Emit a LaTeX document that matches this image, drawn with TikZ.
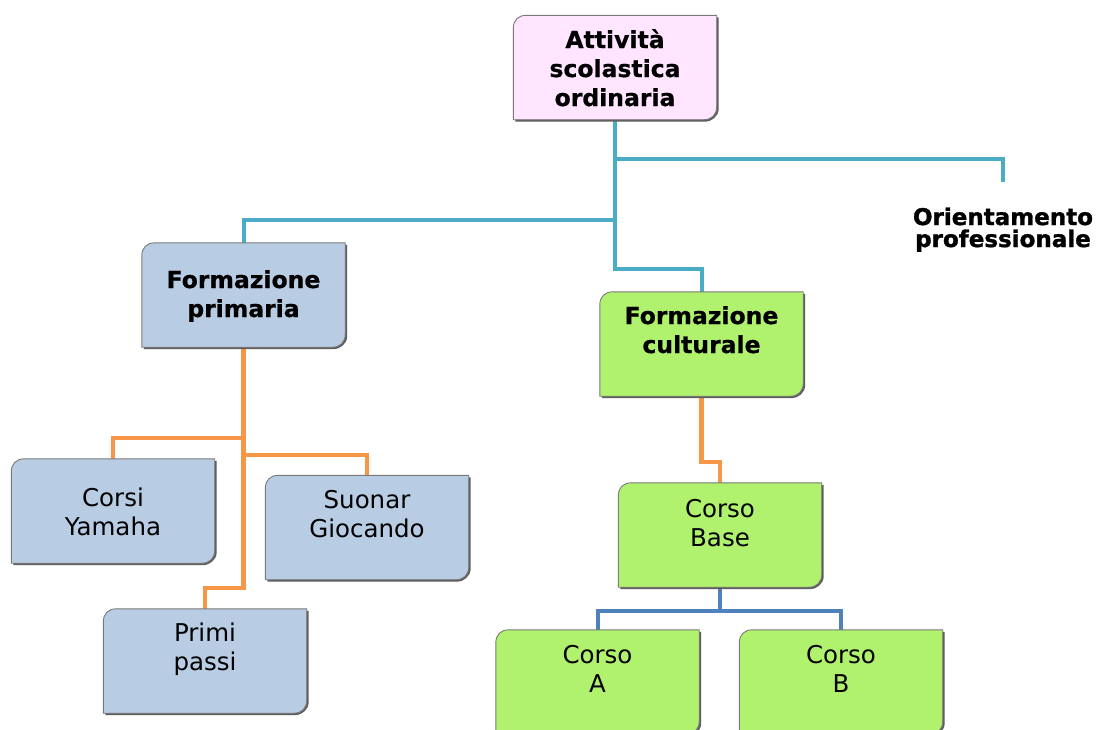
\documentclass[tikz,border=0pt]{standalone}
\usepackage{fontspec}
\setmainfont{DejaVu Sans}[BoldFeatures={FakeBold=0.6}]
\newfontfamily\heavyfont{DejaVu Sans Bold}[FakeBold=1.4]
\definecolor{pinkf}{HTML}{FFE5FF}
\definecolor{bluef}{HTML}{B8CCE4}
\definecolor{greenf}{HTML}{B0F26E}
\definecolor{tealc}{HTML}{4BACC6}
\definecolor{orangec}{HTML}{F79646}
\definecolor{bluec}{HTML}{4F81BD}
\definecolor{bordc}{HTML}{7A7A7A}
\definecolor{shadowc}{HTML}{5E5E5E}
\newcommand\ml[1]{\begin{tabular}[t]{@{}c@{}}#1\end{tabular}}
\newcommand\boxshape[2]{%
 \fill[shadowc] ([xshift=2pt,yshift=-2pt]#1.south west) -- ([xshift=2pt,yshift=-15pt]#1.north west) .. controls ([xshift=2pt,yshift=-7pt]#1.north west) and ([xshift=7pt,yshift=-2pt]#1.north west) .. ([xshift=15pt,yshift=-2pt]#1.north west) -- ([xshift=2pt,yshift=-2pt]#1.north east) -- ([xshift=2pt,yshift=11pt]#1.south east) .. controls ([xshift=2pt,yshift=3pt]#1.south east) and ([xshift=-6pt,yshift=-2pt]#1.south east) .. ([xshift=-11pt,yshift=-2pt]#1.south east) -- cycle;
 \filldraw[fill=#2, draw=bordc, line width=0.9pt] (#1.south west) -- ([yshift=-13pt]#1.north west) .. controls ([yshift=-5pt]#1.north west) and ([xshift=5pt]#1.north west) .. ([xshift=13pt]#1.north west) -- (#1.north east) -- ([yshift=13pt]#1.south east) .. controls ([yshift=5pt]#1.south east) and ([xshift=-5pt]#1.south east) .. ([xshift=-13pt]#1.south east) -- cycle;
}
\tikzset{
 boxn/.style={minimum width=203pt, minimum height=104pt, inner sep=0pt, draw=none},
 txt/.style={font=\fontsize{24.5}{29}\selectfont, inner sep=0pt, anchor=base, text=black},
 btxt/.style={font=\fontsize{23.5}{29}\selectfont\bfseries, inner sep=0pt, anchor=base, text=black},
 htxt/.style={font=\fontsize{23}{29}\selectfont\heavyfont, inner sep=0pt, anchor=base, text=black},
 conn/.style={line width=4pt, line join=miter, line cap=butt},
}
\begin{document}
\begin{tikzpicture}[x=1pt,y=-1pt]
\path[use as bounding box, fill=white] (0,0) rectangle (1100,729);
\clip (0,0) rectangle (1100,729);

% box nodes
\node[boxn] (top) at (615,67.5) {};
\node[boxn] (fp) at (243.5,295) {};
\node[boxn] (fc) at (701.5,344) {};
\node[boxn] (cy) at (113,511) {};
\node[boxn] (sg) at (367,527.5) {};
\node[boxn] (pp) at (205,661) {};
\node[boxn] (cb) at (720,535) {};
\node[boxn] (ca) at (597.5,682) {};
\node[boxn] (cbb) at (841,682) {};
\coordinate (opc) at (1003,182);

% junction levels
\coordinate (y159) at (0,159);
\coordinate (y220) at (0,220);
\coordinate (y269) at (0,269);
\coordinate (y438) at (0,438);
\coordinate (y455) at (0,455);
\coordinate (y588) at (0,588);
\coordinate (y462) at (0,462);
\coordinate (y611) at (0,611);

% connectors
\draw[conn, tealc] (top.south) -- (top.south |- y159) -| (opc);
\draw[conn, tealc] (top.south) -- (top.south |- y269) -| (fc.north);
\draw[conn, tealc] (top.south |- y220) -| (fp.north);
\draw[conn, orangec, line width=4.5pt] (fp.south) -- (fp.south |- y588) -| (pp.north);
\draw[conn, orangec, line width=4.5pt] (fp.south |- y438) -| (cy.north);
\draw[conn, orangec, line width=4.5pt] (fp.south |- y455) -| (sg.north);
\draw[conn, orangec, line width=4.5pt] (fc.south) -- (fc.south |- y462) -| (cb.north);
\draw[conn, bluec] (cb.south) -- (cb.south |- y611) -| (ca.north);
\draw[conn, bluec] (cb.south |- y611) -| (cbb.north);

% boxes
\boxshape{top}{pinkf}
\boxshape{fp}{bluef}
\boxshape{fc}{greenf}
\boxshape{cy}{bluef}
\boxshape{sg}{bluef}
\boxshape{pp}{bluef}
\boxshape{cb}{greenf}
\boxshape{ca}{greenf}
\boxshape{cbb}{greenf}

% texts
\node[btxt] (topt) at (615,48) {\ml{Attività\\scolastica\\ordinaria}};
\node[btxt] (fpt) at (243.5,288) {\ml{Formazione\\primaria}};
\node[btxt] (fct) at (701.5,324) {\ml{Formazione\\culturale}};
\node[htxt] (op) at (1003,225) {\ml{Orientamento\\[-7pt]professionale}};
\node[txt] (cyt) at (113,506) {\ml{Corsi\\Yamaha}};
\node[txt] (sgt) at (367,508) {\ml{Suonar\\Giocando}};
\node[txt] (ppt) at (205,641) {\ml{Primi\\passi}};
\node[txt] (cbt) at (720,517) {\ml{Corso\\Base}};
\node[txt] (cat) at (597.5,663) {\ml{Corso\\A}};
\node[txt] (cbbt) at (841,663) {\ml{Corso\\B}};
\end{tikzpicture}
\end{document}
